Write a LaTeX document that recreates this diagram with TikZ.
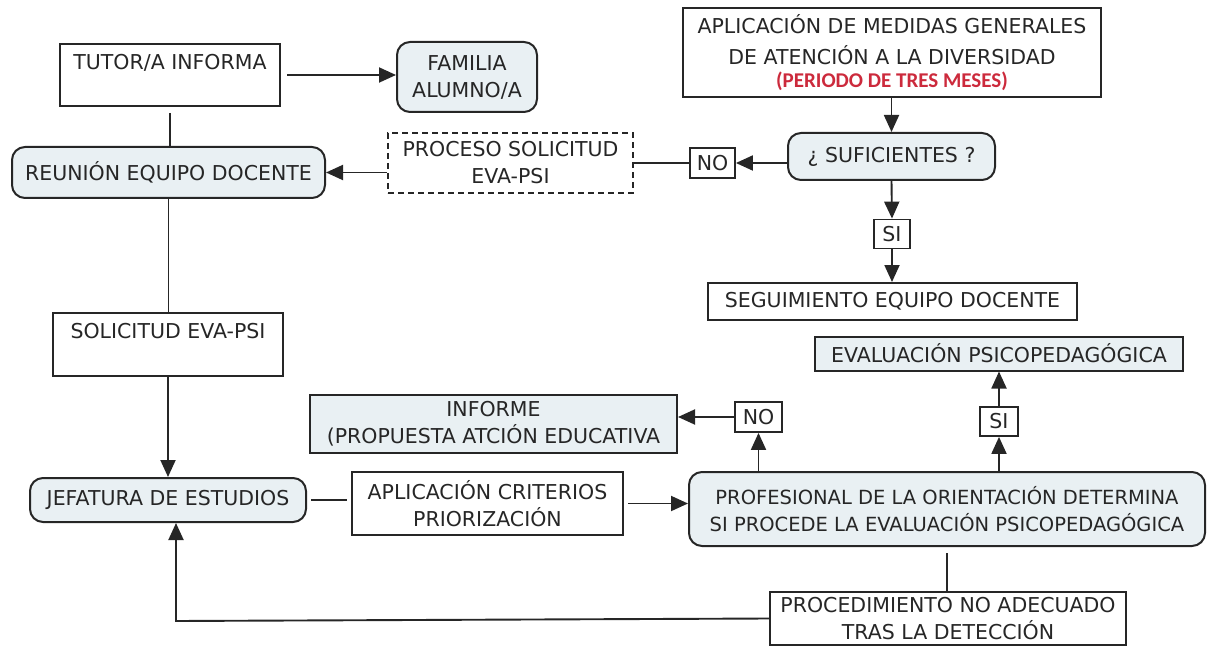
\documentclass[tikz,border=0pt]{standalone}
\usepackage{fontspec}
\setmainfont{DejaVu Sans}
\newfontfamily\redfont{Carlito}
\usetikzlibrary{arrows.meta}
\definecolor{boxfill}{HTML}{E9F0F3}
\definecolor{ink}{HTML}{262626}
\definecolor{redtxt}{HTML}{CC2A3C}
\tikzset{
  base/.style={draw=ink, line width=2pt, text=ink, align=center, inner sep=0pt,
    font=\fontsize{20.5}{27}\selectfont},
  plainbox/.style={base},
  roundbox/.style={base, fill=boxfill, rounded corners=13pt},
  fillbox/.style={base, fill=boxfill},
  dashbox/.style={base, line width=1.6pt, dash pattern=on 6pt off 4pt},
  smallbox/.style={base, line width=1.8pt},
  conn/.style={draw=ink, line width=1.9pt},
  arr/.style={conn, -{Triangle[length=17pt,width=15pt]}}
}
\begin{document}
\begin{tikzpicture}[x=1pt,y=-1pt]
\useasboundingbox (0,0) rectangle (1213,647);
\node[plainbox, minimum width=220pt, minimum height=62pt] (tutor) at (170,75) {TUTOR/A INFORMA\\ ~};
\node[roundbox, minimum width=140pt, minimum height=70pt] (fam) at (467,77) {FAMILIA\\ALUMNO/A};
\node[roundbox, minimum width=313pt, minimum height=51pt] (reu) at (168.5,172.5) {REUNIÓN EQUIPO DOCENTE};
\node[dashbox, minimum width=245pt, minimum height=60pt] (proc) at (510.5,163) {PROCESO SOLICITUD\\EVA-PSI};
\node[smallbox, minimum width=45pt, minimum height=30pt] (no1) at (712.5,163) {NO};
\node[plainbox, minimum width=418pt, minimum height=89pt, font=\fontsize{20.5}{31}\selectfont] (apl) at (892,52.5) {APLICACIÓN DE MEDIDAS GENERALES\\DE ATENCIÓN A LA DIVERSIDAD\\[-8pt]{\redfont\bfseries\color{redtxt}\fontsize{21}{25}\selectfont (PERIODO DE TRES MESES)}};
\node[roundbox, minimum width=207pt, minimum height=47pt] (suf) at (891.5,156.5) {¿ SUFICIENTES ?};
\node[smallbox, minimum width=36pt, minimum height=29pt] (si1) at (892,234) {SI};
\node[plainbox, minimum width=369pt, minimum height=37pt] (seg) at (892.5,301.5) {SEGUIMIENTO EQUIPO DOCENTE};
\node[plainbox, minimum width=230pt, minimum height=63pt] (sol) at (168,344.5) {SOLICITUD EVA-PSI\\ ~};
\node[roundbox, minimum width=276pt, minimum height=44pt] (jef) at (168,500) {JEFATURA DE ESTUDIOS};
\node[plainbox, minimum width=271pt, minimum height=63pt] (crit) at (487.5,503.5) {APLICACIÓN CRITERIOS\\PRIORIZACIÓN};
\node[roundbox, minimum width=516pt, minimum height=74pt, font=\fontsize{19.5}{27}\selectfont] (prof) at (947,509) {PROFESIONAL DE LA ORIENTACIÓN DETERMINA\\SI PROCEDE LA EVALUACIÓN PSICOPEDAGÓGICA};
\node[fillbox, minimum width=367pt, minimum height=58pt] (inf) at (493.5,424) {INFORME\\(PROPUESTA ATCIÓN EDUCATIVA};
\node[smallbox, minimum width=47pt, minimum height=30pt] (no2) at (758.5,417) {NO};
\node[smallbox, minimum width=38pt, minimum height=29pt] (si2) at (999,421.5) {SI};
\node[fillbox, minimum width=368pt, minimum height=34pt] (eva) at (999,353.5) {EVALUACIÓN PSICOPEDAGÓGICA};
\node[plainbox, minimum width=356pt, minimum height=53pt] (pnd) at (948,618.5) {PROCEDIMIENTO NO ADECUADO\\TRAS LA DETECCIÓN};
\coordinate (corner) at (176,621);
% connectors
\draw[arr, shorten <=6pt] (tutor.east) -- (tutor.east -| fam.west);
\draw[conn, shorten <=6pt] (tutor.south) -- (tutor.south |- reu.north);
\draw[arr] (proc.west |- reu.east) -- (reu.east);
\draw[conn] (proc.east |- no1.west) -- (no1.west);
\draw[arr] (no1.east -| suf.west) -- (no1.east);
\draw[arr] (apl.south -| suf.north) -- (suf.north);
\draw[arr] (suf.south) -- (si1.north);
\draw[arr] (si1.south) -- (si1.south |- seg.north);
\draw[conn] (reu.south) -- (reu.south |- sol.north);
\draw[arr] (sol.south) -- (jef.north);
\draw[conn, shorten <=4pt, shorten >=4pt] (jef.east) -- (jef.east -| crit.west);
\draw[arr, shorten <=4pt] (crit.east) -- (crit.east -| prof.west);
\draw[arr] (no2.south |- prof.north) -- (no2.south);
\draw[arr] (no2.west) -- (no2.west -| inf.east);
\draw[arr] (si2.south |- prof.north) -- (si2.south);
\draw[arr] (si2.north) -- (si2.north |- eva.south);
\draw[conn, shorten <=6pt] (prof.south) -- (prof.south |- pnd.north);
\draw[arr] (pnd.west) -- (corner) -- (corner |- jef.south);
\end{tikzpicture}
\end{document}
